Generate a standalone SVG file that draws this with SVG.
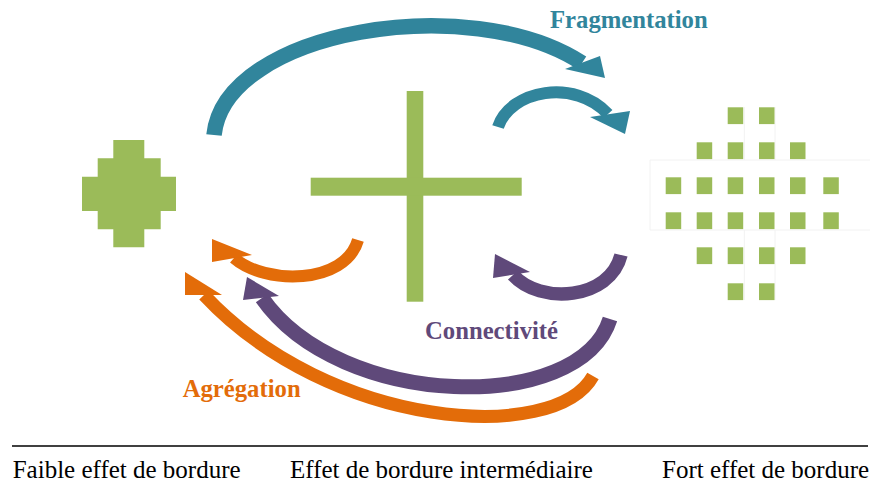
<svg xmlns="http://www.w3.org/2000/svg" width="870" height="486" viewBox="0 0 870 486">
<style>
.g{fill:#9BBB59}
.arc{fill:none;stroke-linecap:butt}
.teal{stroke:#31859C}
.orange{stroke:#E36C09}
.purple{stroke:#5F497A}
.hteal{fill:#31859C}
.horange{fill:#E36C09}
.hpurple{fill:#5F497A}
.lbl{font-family:"Liberation Serif","Times New Roman",serif;font-weight:bold;font-size:24.7px}
.cap{font-family:"Liberation Serif","Times New Roman",serif;font-size:25px;fill:#000}
.faint{fill:none;stroke:#f2f2f2;stroke-width:1}
</style>
<rect width="870" height="486" fill="#ffffff"/>
<g id="faible">
<path class="g" d="M113.3,140 H144.3 V158.3 H160.7 V176.7 H176 V211 H160.7 V229.3 H144.3 V247.3 H113.3 V229.3 H97.7 V211 H82 V176.7 H97.7 V158.3 H113.3 Z"/>
</g>
<g id="intermediaire">
<rect class="g" x="406.7" y="91" width="16.6" height="210.7"/>
<rect class="g" x="310.7" y="177.7" width="211" height="18"/>
</g>
<g id="fort">
<path class="faint" d="M870,160 H650 V230 H870 M744.3,107 V160 M775,107 V160 M744.3,230 V300 M775,230 V300"/>
<rect class="g" x="727.7" y="107.3" width="15.5" height="16.8"/>
<rect class="g" x="759" y="107.3" width="15.5" height="16.8"/>
<rect class="g" x="696.7" y="142.3" width="15.5" height="16.8"/>
<rect class="g" x="727.7" y="142.3" width="15.5" height="16.8"/>
<rect class="g" x="759" y="142.3" width="15.5" height="16.8"/>
<rect class="g" x="790" y="142.3" width="15.5" height="16.8"/>
<rect class="g" x="665.7" y="177.3" width="15.5" height="16.8"/>
<rect class="g" x="696.7" y="177.3" width="15.5" height="16.8"/>
<rect class="g" x="727.7" y="177.3" width="15.5" height="16.8"/>
<rect class="g" x="759" y="177.3" width="15.5" height="16.8"/>
<rect class="g" x="790" y="177.3" width="15.5" height="16.8"/>
<rect class="g" x="823.3" y="177.3" width="15.5" height="16.8"/>
<rect class="g" x="665.7" y="212.3" width="15.5" height="16.8"/>
<rect class="g" x="696.7" y="212.3" width="15.5" height="16.8"/>
<rect class="g" x="727.7" y="212.3" width="15.5" height="16.8"/>
<rect class="g" x="759" y="212.3" width="15.5" height="16.8"/>
<rect class="g" x="790" y="212.3" width="15.5" height="16.8"/>
<rect class="g" x="823.3" y="212.3" width="15.5" height="16.8"/>
<rect class="g" x="696.7" y="247.3" width="15.5" height="16.8"/>
<rect class="g" x="727.7" y="247.3" width="15.5" height="16.8"/>
<rect class="g" x="759" y="247.3" width="15.5" height="16.8"/>
<rect class="g" x="790" y="247.3" width="15.5" height="16.8"/>
<rect class="g" x="727.7" y="283.3" width="15.5" height="16.8"/>
<rect class="g" x="759" y="283.3" width="15.5" height="16.8"/>
</g>
<g id="connectors">
<path class="arc teal" stroke-width="15.5" d="M214,135 C225,30 470,-10 582,63"/>
<polygon class="hteal" points="600,56 605,78 565,69"/>
<path class="arc teal" stroke-width="12" d="M498,127 C510,90 575,78 608,114"/>
<polygon class="hteal" points="630,111 625,134 590,117"/>
<path class="arc orange" stroke-width="12" d="M358,240 C345,285 265,285 234,258"/>
<polygon class="horange" points="212,239 212,262 252,255"/>
<path class="arc orange" stroke-width="13" d="M593,376 C555,445 330,430 204,295"/>
<polygon class="horange" points="185,272 185,295 222,295"/>
<path class="arc purple" stroke-width="15" d="M610,319 C580,415 340,410 262,298"/>
<polygon class="hpurple" points="247,277 243,300 279,296"/>
<path class="arc purple" stroke-width="13.5" d="M621,255 C610,300 540,305 513,275"/>
<polygon class="hpurple" points="495,254 493,278 530,272"/>
</g>
<g id="labels">
<text class="lbl" x="550" y="28.3" fill="#31859C">Fragmentation</text>
<text class="lbl" x="425" y="339" fill="#5F497A">Connectivité</text>
<text class="lbl" x="182.7" y="396.7" fill="#E36C09">Agrégation</text>
</g>
<g id="axis">
<line x1="12" y1="446" x2="868" y2="446" stroke="#000" stroke-width="1.3"/>
<text class="cap" x="12.7" y="478.3">Faible effet de bordure</text>
<text class="cap" x="290" y="478.3">Effet de bordure intermédiaire</text>
<text class="cap" x="662" y="478.3">Fort effet de bordure</text>
</g>
</svg>
